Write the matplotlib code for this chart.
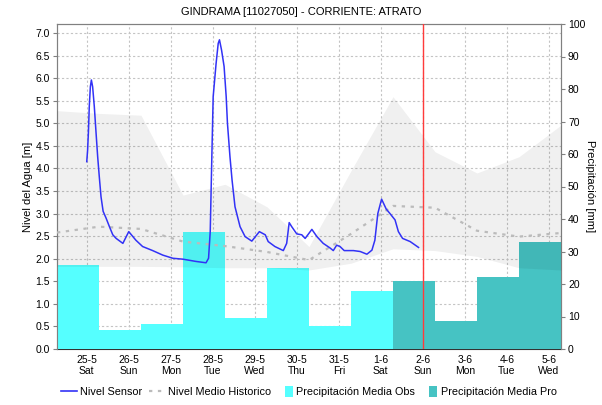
import matplotlib
matplotlib.use("Agg")
import matplotlib.pyplot as plt
from matplotlib.lines import Line2D
from matplotlib.patches import Patch, Rectangle
from matplotlib.legend_handler import HandlerPatch
import numpy as np

plt.rcParams['font.family'] = ['Liberation Sans', 'DejaVu Sans']

title = "GINDRAMA [11027050] - CORRIENTE: ATRATO"

# x axis: days since 25-5 00:00
day_labels = ["25-5\nSat", "26-5\nSun", "27-5\nMon", "28-5\nTue", "29-5\nWed", "30-5\nThu",
              "31-5\nFri", "1-6\nSat", "2-6\nSun", "3-6\nMon", "4-6\nTue", "5-6\nWed"]
x_start = -17 / 24.0   # 24-5 07:00
now_day = 8.0          # 2-6 00:00

# daily precipitation (07:00 -> 07:00), mm
precip_obs = [25.8, 6.0, 7.7, 35.9, 9.4, 24.8, 7.1, 17.9]
precip_pro = [21.0, 8.7, 22.1, 32.8]

# historical band (vertices at 07:00 each day), m
hist_upper = [5.28, 5.22, 5.18, 3.41, 3.65, 3.15, 2.27, 3.95, 5.59, 4.37, 3.90, 4.26, 4.96]
hist_lower = [1.83, 1.83, 1.83, 1.82, 1.80, 1.80, 1.75, 1.90, 2.22, 2.18, 2.05, 1.80, 1.75]
hist_median = [2.58, 2.71, 2.66, 2.38, 2.28, 2.15, 1.97, 2.55, 3.17, 3.13, 2.62, 2.49, 2.57]

# sensor level
sensor_t = [0.00, 0.02, 0.04, 0.06, 0.086, 0.11, 0.14, 0.18, 0.22, 0.26, 0.30, 0.34, 0.39,
            0.46, 0.54, 0.62, 0.70, 0.86, 1.00, 1.17, 1.33, 1.57, 1.81, 2.05, 2.29, 2.60,
            2.84, 2.90, 2.94, 2.98, 3.01, 3.08, 3.13, 3.16, 3.21, 3.27, 3.32, 3.35, 3.41,
            3.46, 3.53, 3.65, 3.77, 3.93, 4.11, 4.25, 4.32, 4.48, 4.68, 4.76, 4.82, 4.88,
            5.00, 5.12, 5.20, 5.36, 5.48, 5.63, 5.79, 5.87, 5.95, 6.03, 6.13, 6.35, 6.51,
            6.67, 6.79, 6.86, 6.93, 7.02, 7.13, 7.22, 7.34, 7.42, 7.52, 7.70, 7.90]
sensor_h = [4.15, 4.40, 4.81, 5.37, 5.81, 5.96, 5.81, 5.37, 4.81, 4.26, 3.80, 3.37, 3.05,
            2.90, 2.71, 2.53, 2.45, 2.34, 2.60, 2.41, 2.27, 2.18, 2.08, 2.01, 1.99, 1.94,
            1.91, 2.01, 2.60, 4.33, 5.59, 6.33, 6.77, 6.85, 6.62, 6.26, 5.59, 5.00, 4.26,
            3.74, 3.15, 2.71, 2.49, 2.39, 2.60, 2.53, 2.38, 2.27, 2.18, 2.34, 2.80, 2.71,
            2.55, 2.53, 2.45, 2.65, 2.49, 2.34, 2.24, 2.18, 2.30, 2.27, 2.18, 2.18, 2.16,
            2.10, 2.19, 2.41, 3.00, 3.32, 3.10, 3.00, 2.86, 2.60, 2.45, 2.38, 2.25]

n_days = len(day_labels)
edges = x_start + np.arange(n_days + 1)
obs_left = edges[:len(precip_obs)]
pro_left = edges[len(precip_obs):len(precip_obs) + len(precip_pro)]

obs_color = '#55ffff'
pro_color = '#46c3c3'
sensor_color = '#3232f6'
median_color = '#bbbbbb'

fig = plt.figure(figsize=(6.02, 4.05), dpi=100)
pos = [57 / 602, 1 - 349 / 405, (561 - 57) / 602, (349 - 24) / 405]
ax = fig.add_axes(pos)
ax2 = ax.twinx()
ax3 = fig.add_axes(pos, sharex=ax, sharey=ax, frameon=False)
ax3.axis('off')

# grid on bottom axes
grid_c = '#c4c4c4'
ax.set_xlim(x_start, x_start + n_days)
ax.set_ylim(0, 7.2)
ax.set_yticks(np.arange(0, 7.01, 0.5))
ax.set_yticklabels([f"{v:.1f}" for v in np.arange(0, 7.01, 0.5)])
ax.set_xticks(np.arange(n_days))
ax.set_xticklabels(day_labels)
ax.grid(True, color=grid_c, linestyle=(0, (2, 2)), linewidth=0.8)
ax.set_axisbelow(True)

# bars on right axis
ax2.bar(obs_left, precip_obs, width=1.0, align='edge', color=obs_color, linewidth=0, zorder=1)
ax2.bar(pro_left, precip_pro, width=1.0, align='edge', color=pro_color, linewidth=0, zorder=1)
ax2.set_ylim(0, 100)
ax2.set_yticks(np.arange(0, 101, 10))

# band and lines on top
ax3.fill_between(edges, hist_lower, hist_upper, color='black', alpha=0.06, linewidth=0, zorder=1)
ax3.plot(edges, hist_median, color=median_color, linestyle=(0, (1.5, 2.5)), linewidth=1.6, zorder=2)
ax3.plot(sensor_t, sensor_h, color=sensor_color, linewidth=1.1, zorder=3)
ax3.axvline(now_day, color='#ff3b3b', linewidth=1.0, zorder=4)

# styling
spine_c = '#808080'
for a in (ax, ax2):
    for s in a.spines.values():
        s.set_color(spine_c)
ax.spines['bottom'].set_color('#333333')
ax.spines['bottom'].set_linestyle((0, (1, 1)))
ax2.spines['bottom'].set_visible(False)
ax.tick_params(axis='y', labelsize=7.5, length=3, color=spine_c, pad=2)
ax.tick_params(axis='x', labelsize=7.5, length=0, pad=4)
ax2.tick_params(axis='y', labelsize=7.5, length=3, color=spine_c, pad=2)
ax.set_ylabel("Nivel del Agua [m]", fontsize=8, labelpad=2)
ax2.set_ylabel("Precipitación [mm]", fontsize=8, rotation=-90, labelpad=7)
fig.text(0.5, 1 - 12 / 405, title, ha='center', va='center', fontsize=8)


def narrow_patch(legend, orig_handle, xdescent, ydescent, width, height, fontsize):
    w = 6.0
    h = height * 1.5
    return Rectangle((width - w - xdescent, -ydescent - (h - height) / 2), w, h)


handles = [Line2D([], [], color=sensor_color, linewidth=1.2),
           Line2D([], [], color=median_color, linestyle=(0, (1.5, 2.5)), linewidth=1.6),
           Patch(facecolor=obs_color, edgecolor='none'),
           Patch(facecolor=pro_color, edgecolor='none')]
labels = ["Nivel Sensor", "Nivel Medio Historico", "Precipitación Media Obs", "Precipitación Media Pro"]
fig.legend(handles, labels, loc='center', bbox_to_anchor=(0.513, 1 - 392 / 405), ncol=4,
           frameon=False, fontsize=7.8, handlelength=1.45, handletextpad=0.3, columnspacing=0.6,
           handler_map={Patch: HandlerPatch(patch_func=narrow_patch)})

fig.savefig("out.png", dpi=100)
